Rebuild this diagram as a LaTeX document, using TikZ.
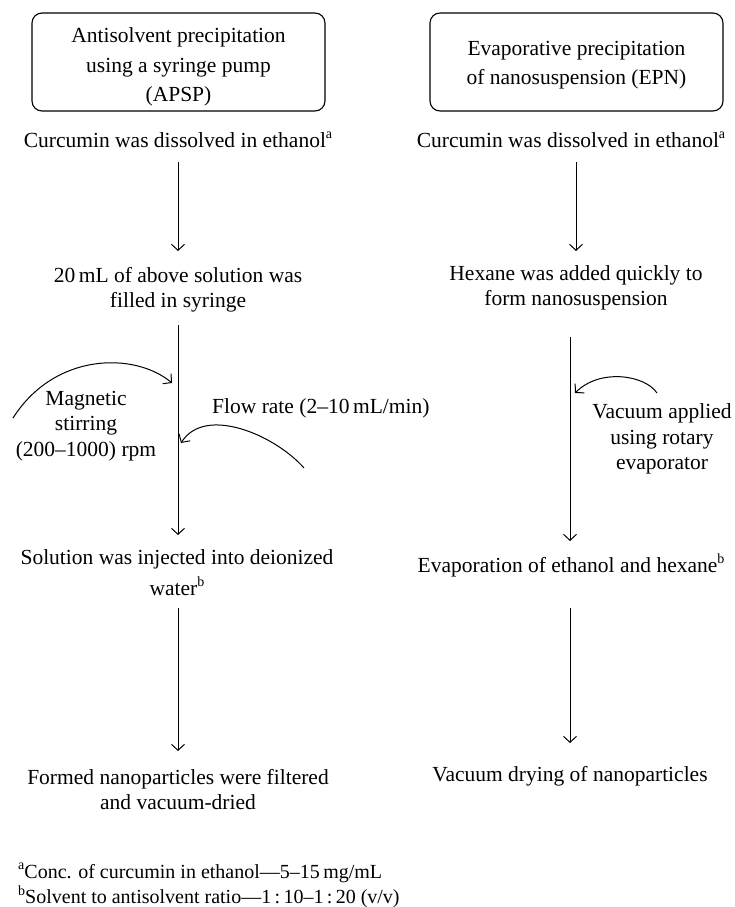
\documentclass[tikz,border=0pt]{standalone}
\usepackage{fontspec}
\setmainfont{Liberation Serif}
\usetikzlibrary{arrows.meta}
\newcommand{\supmark}[1]{\raisebox{0.42em}{\fontsize{14}{14}\selectfont #1}}
\begin{document}
\begin{tikzpicture}[x=1pt,y=-1pt,
  every node/.style={font=\fontsize{21.5}{25.5}\selectfont, align=center, inner sep=0pt},
  titlebox/.style={draw, line width=1.1pt, rounded corners=10pt, minimum width=293pt, minimum height=98pt},
  titletext/.style={font=\fontsize{21.5}{29.5}\selectfont},
  arr/.style={line width=1pt, -{Straight Barb[length=6pt,width=13pt,line width=1pt]}},
  note/.style={font=\fontsize{20}{24}\selectfont, align=left, anchor=west}]
\useasboundingbox (0,0) rectangle (734,907);
% title boxes
\node[titlebox] (boxL) at (178.5,62) {};
\node[titletext] (boxLt) at (178.5,67) {Antisolvent precipitation\\using a syringe pump\\(APSP)};
\node[titlebox] (boxR) at (576.5,62) {};
\node[titletext] (boxRt) at (576.5,65) {Evaporative precipitation\\of nanosuspension (EPN)};
% left column
\node (l1) at (178,140) {Curcumin was dissolved in ethanol\supmark{a}};
\node (l2) at (178,289.5) {20\,mL of above solution was\\filled in syringe};
\node (l3) at (177,572.5) {Solution was injected into deionized\\[5pt]water\supmark{b}};
\node (l4) at (178,789.5) {Formed nanoparticles were filtered\\and vacuum-dried};
\node (mag) at (86,426) {Magnetic\\stirring\\(200--1000) rpm};
\node[anchor=west] (flow) at (212,408) {Flow rate (2--10\,mL/min)};
% right column
\node (r1) at (571,140) {Curcumin was dissolved in ethanol\supmark{a}};
\node (r2) at (576,288) {Hexane was added quickly to\\form nanosuspension};
\node (r3) at (571,565) {Evaporation of ethanol and hexane\supmark{b}};
\node (r4) at (570,776) {Vacuum drying of nanoparticles};
\node (vac) at (662,439) {Vacuum applied\\using rotary\\evaporator};
% footnotes
\node[note] (fa) at (18,873) {\supmark{a}Conc. of curcumin in ethanol---5--15\,mg/mL};
\node[note] (fb) at (18,897) {\supmark{b}Solvent to antisolvent ratio---1\,:\,10--1\,:\,20 (v/v)};
% connector end points
\coordinate (l1o) at (178,162);
\coordinate (l2i) at (178,251);
\coordinate (l2o) at (178,325);
\coordinate (l3i) at (178,535);
\coordinate (l3o) at (178,608);
\coordinate (l4i) at (178,751);
\coordinate (r1o) at (576,162);
\coordinate (r2i) at (576,251);
\coordinate (r2o) at (570,337);
\coordinate (r3i) at (570,541);
\coordinate (r3o) at (570,608);
\coordinate (r4i) at (570,743);
\coordinate (magS) at (13,418);
\coordinate (magE) at (172,383);
\coordinate (flowS) at (304,468);
\coordinate (flowE) at (181,443);
\coordinate (vacS) at (657,393);
\coordinate (vacE) at (575,393);
% connectors
\draw[arr] (l1o) -- (l2i);
\draw[arr] (l2o) -- (l3i);
\draw[arr] (l3o) -- (l4i);
\draw[arr] (r1o) -- (r2i);
\draw[arr] (r2o) -- (r3i);
\draw[arr] (r3o) -- (r4i);
\draw[arr] (magS) .. controls (55,352) and (135,352) .. (magE);
\draw[arr] (flowS) .. controls (275,435) and (205,405) .. (flowE);
\draw[arr] (vacS) .. controls (645,375) and (600,368) .. (vacE);
\end{tikzpicture}
\end{document}
